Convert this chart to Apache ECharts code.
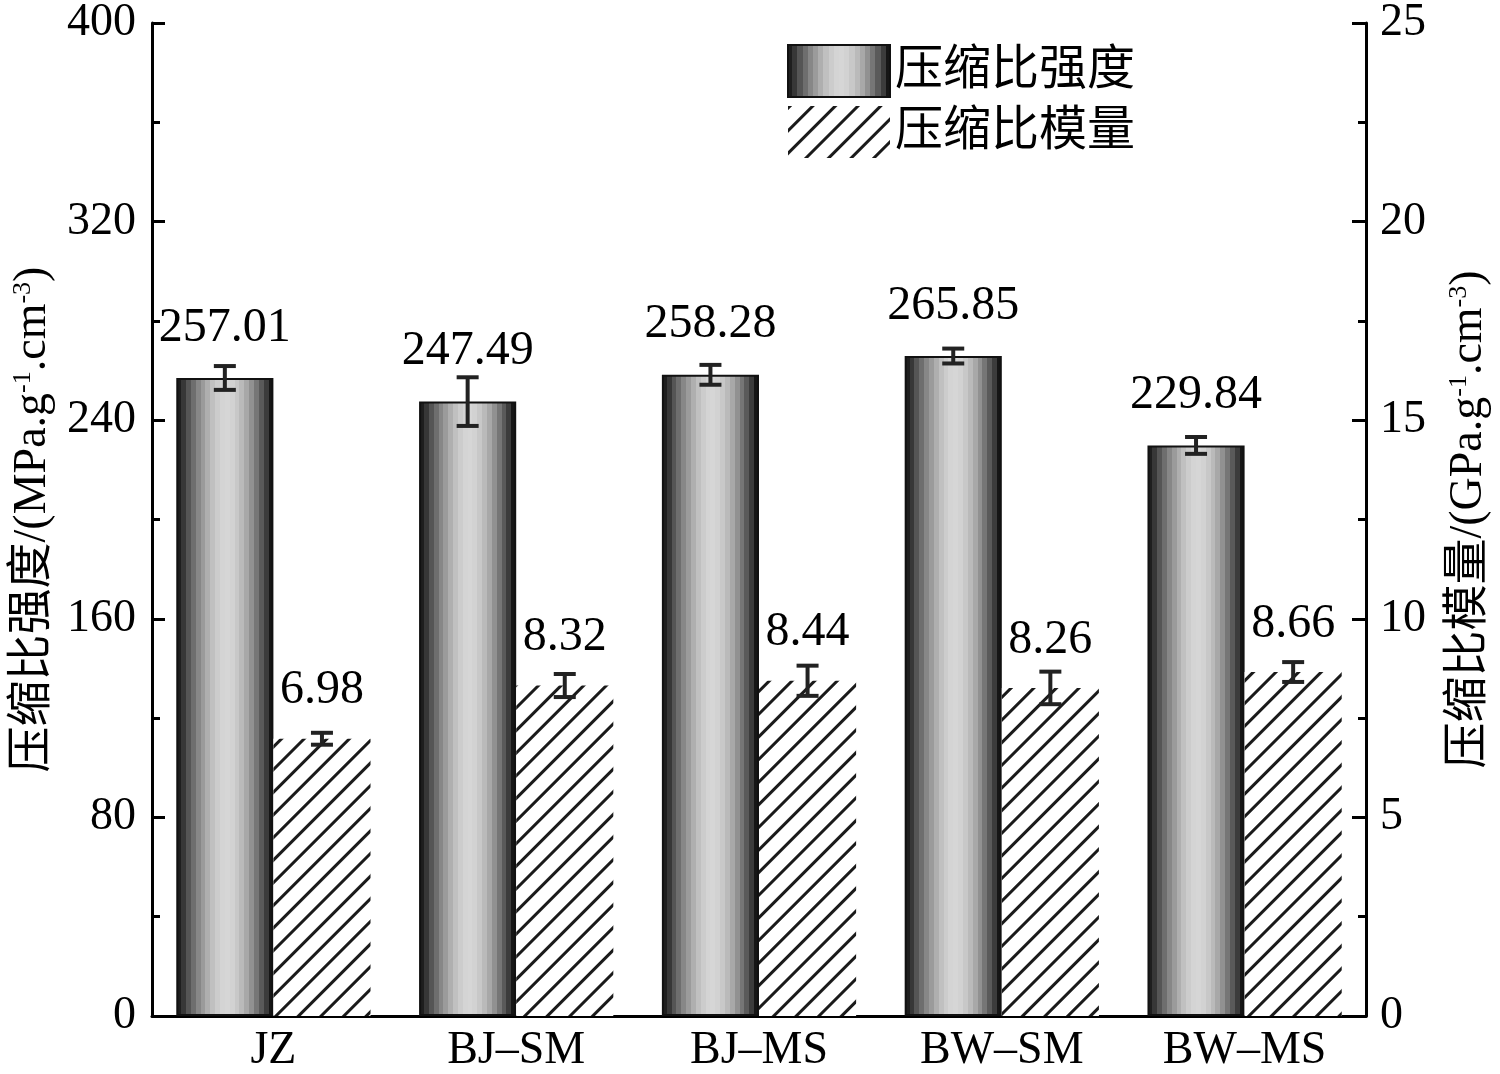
<!DOCTYPE html>
<html>
<head>
<meta charset="utf-8">
<script src="https://cdn.jsdelivr.net/npm/echarts@6/dist/echarts.min.js"></script>
<style>
  html, body { margin: 0; padding: 0; background: #fff; }
  #chart { width: 1500px; height: 1074px; }
</style>
</head>
<body>
<div id="chart"></div>
<script>
// data
const categories = ['JZ', 'BJ–SM', 'BJ–MS', 'BW–SM', 'BW–MS'];
const strength = [257.01, 247.49, 258.28, 265.85, 229.84];
const strengthErr = [4.8, 9.8, 4.0, 3.0, 3.4];
const modulus = [6.98, 8.32, 8.44, 8.26, 8.66];
const modulusErr = [0.15, 0.29, 0.38, 0.41, 0.25];
const leftTicks = { min: 0, max: 400, interval: 80 };
const rightTicks = { min: 0, max: 25, interval: 5 };

const serif = '"Liberation Serif", "Times New Roman", "Noto Sans CJK SC", serif';

// stepped grey shading to mimic the cylinder look
const greys = [30, 55, 85, 110, 135, 155, 175, 192, 204, 212, 214, 210, 200, 186, 168, 145, 118, 90, 60, 22];
const stops = [];
greys.forEach(function (g, i) {
  const c = 'rgb(' + g + ',' + g + ',' + g + ')';
  stops.push({ offset: i / greys.length, color: c });
  stops.push({ offset: (i + 1) / greys.length, color: c });
});
const cylinder = new echarts.graphic.LinearGradient(0, 0, 1, 0, stops);

function errorBars(side) {
  return function (params, api) {
    const i = api.value(0);
    const v = api.value(1);
    const e = api.value(2);
    const band = api.size([1, 0])[0];
    const x = api.coord([i, v])[0] + side * band * 0.2;
    const top = api.coord([i, v + e])[1];
    const bot = api.coord([i, v - e])[1];
    const cap = 11;
    const st = { stroke: '#222', lineWidth: 4 };
    return {
      type: 'group',
      children: [
        { type: 'line', shape: { x1: x, y1: top, x2: x, y2: bot }, style: st },
        { type: 'line', shape: { x1: x - cap, y1: top, x2: x + cap, y2: top }, style: st },
        { type: 'line', shape: { x1: x - cap, y1: bot, x2: x + cap, y2: bot }, style: st }
      ]
    };
  };
}

const axisName = function (label, unit) {
  return label + '/(' + unit + '.g{sup|-1}.cm{sup|-3})';
};
const nameStyle = {
  fontFamily: serif, fontSize: 46, color: '#000',
  rich: { sup: { fontFamily: serif, fontSize: 26, verticalAlign: 'top', color: '#000' } }
};

const chart = echarts.init(document.getElementById('chart'));
chart.setOption({
  animation: false,
  backgroundColor: '#fff',
  grid: { left: 152, right: 132, top: 18, bottom: 50 },
  legend: {
    orient: 'vertical',
    left: 787,
    top: 44,
    padding: 0,
    icon: 'rect',
    itemWidth: 102,
    itemHeight: 52,
    itemGap: 8,
    textStyle: { fontFamily: serif, fontSize: 48, color: '#000' },
    data: ['压缩比强度', '压缩比模量']
  },
  xAxis: {
    type: 'category',
    data: categories,
    axisLine: { lineStyle: { color: '#000', width: 3 } },
    axisTick: { show: false },
    axisLabel: { fontFamily: serif, fontSize: 46, color: '#000', margin: 12 }
  },
  yAxis: [
    {
      type: 'value',
      min: leftTicks.min, max: leftTicks.max, interval: leftTicks.interval,
      name: axisName('压缩比强度', 'MPa'),
      nameLocation: 'middle',
      nameGap: 92,
      nameTextStyle: nameStyle,
      axisLine: { show: true, lineStyle: { color: '#000', width: 3 } },
      axisTick: { show: true, inside: true, length: 13, lineStyle: { color: '#000', width: 3 } },
      minorTick: { show: true, splitNumber: 2, length: 8, lineStyle: { color: '#000', width: 3 } },
      splitLine: { show: false },
      axisLabel: { fontFamily: serif, fontSize: 46, color: '#000', margin: 16 }
    },
    {
      type: 'value',
      position: 'right',
      min: rightTicks.min, max: rightTicks.max, interval: rightTicks.interval,
      name: axisName('压缩比模量', 'GPa'),
      nameLocation: 'middle',
      nameGap: 80,
      nameTextStyle: nameStyle,
      axisLine: { show: true, lineStyle: { color: '#000', width: 3 } },
      axisTick: { show: true, inside: true, length: 14, lineStyle: { color: '#000', width: 3 } },
      minorTick: { show: true, splitNumber: 2, length: 8, lineStyle: { color: '#000', width: 3 } },
      splitLine: { show: false },
      axisLabel: { fontFamily: serif, fontSize: 46, color: '#000', margin: 14 }
    }
  ],
  series: [
    {
      name: '压缩比强度',
      type: 'bar',
      yAxisIndex: 0,
      data: strength,
      barWidth: '40%',
      barGap: '0%',
      itemStyle: { color: cylinder, borderColor: '#111', borderWidth: 2 },
      label: {
        show: true, position: 'top', distance: 26,
        fontFamily: serif, fontSize: 48, color: '#000'
      }
    },
    {
      name: '压缩比模量',
      type: 'bar',
      yAxisIndex: 1,
      data: modulus,
      barWidth: '40%',
      barGap: '0%',
      itemStyle: {
        color: '#fff',
        decal: {
          symbol: 'rect',
          symbolSize: 1,
          color: '#1a1a1a',
          dashArrayX: [1, 0],
          dashArrayY: [3, 13],
          rotation: -Math.PI / 4
        }
      },
      label: {
        show: true, position: 'top', distance: 24,
        fontFamily: serif, fontSize: 48, color: '#000'
      }
    },
    {
      type: 'custom',
      yAxisIndex: 0,
      z: 5,
      renderItem: errorBars(-1),
      encode: { x: 0, y: 1 },
      data: categories.map(function (c, i) { return [i, strength[i], strengthErr[i]]; })
    },
    {
      type: 'custom',
      yAxisIndex: 1,
      z: 5,
      renderItem: errorBars(1),
      encode: { x: 0, y: 1 },
      data: categories.map(function (c, i) { return [i, modulus[i], modulusErr[i]]; })
    }
  ]
});
</script>
</body>
</html>
